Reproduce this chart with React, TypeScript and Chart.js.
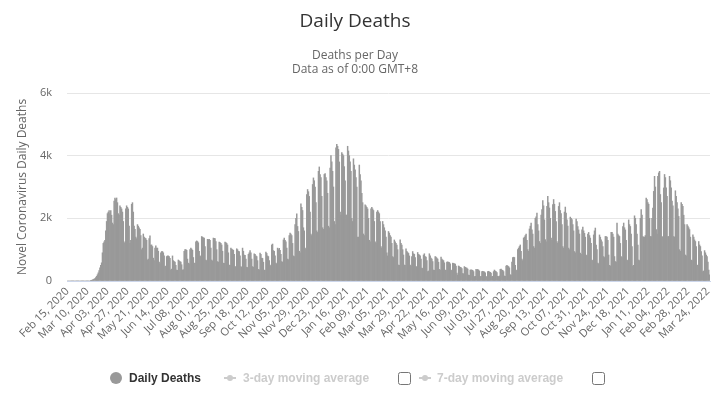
import React, { useEffect, useRef } from 'react';
import { Chart, registerables } from 'chart.js';

Chart.register(...registerables);

const FONT = '"Open Sans", "Liberation Sans", Arial, sans-serif';
const LEGEND_FONT = '"Liberation Sans", Arial, sans-serif';

const chartTitle = 'Daily Deaths';
const chartSubtitle = ['Deaths per Day', 'Data as of 0:00 GMT+8'];
const yAxisTitle = 'Novel Coronavirus Daily Deaths';
const seriesName = 'Daily Deaths';
const hiddenSeries = ['3-day moving average', '7-day moving average'];

const xTickLabels = [
  'Feb 15, 2020', 'Mar 10, 2020', 'Apr 03, 2020', 'Apr 27, 2020', 'May 21, 2020', 'Jun 14, 2020',
  'Jul 08, 2020', 'Aug 01, 2020', 'Aug 25, 2020', 'Sep 18, 2020', 'Oct 12, 2020', 'Nov 05, 2020',
  'Nov 29, 2020', 'Dec 23, 2020', 'Jan 16, 2021', 'Feb 09, 2021', 'Mar 05, 2021', 'Mar 29, 2021',
  'Apr 22, 2021', 'May 16, 2021', 'Jun 09, 2021', 'Jul 03, 2021', 'Jul 27, 2021', 'Aug 20, 2021',
  'Sep 13, 2021', 'Oct 07, 2021', 'Oct 31, 2021', 'Nov 24, 2021', 'Dec 18, 2021', 'Jan 11, 2022',
  'Feb 04, 2022', 'Feb 28, 2022', 'Mar 24, 2022',
];
const tickEvery = 24;
const yTicks = [0, 2000, 4000, 6000];

// Daily deaths, Feb 15 2020 onward
const deathsSpring2020 = [
  0, 0, 0, 0, 0, 0, 0, 0, 0, 0, 0, 0, 0, 0, 0, 0, 0, 0, 0, 0, 0, 0, 0, 0, 0, 0, 0, 0,
  5, 10, 35, 45, 60, 80, 110,
  150, 200, 260, 330, 420, 500, 580,
  900, 1200, 1250, 1300, 1600, 1900, 2150,
  2200, 2250, 2150, 2250, 2100, 1850, 1800,
  2550, 2650, 2600, 2650, 2500, 2150, 2100,
  2400, 2350, 2300, 2200, 1900, 1200, 1250,
  2300, 2400, 2350, 2300, 1750, 1200, 1300,
  2450, 2500, 2200, 1750, 1650, 1400, 1350,
  1800, 1750, 1700, 1650, 1450, 1000, 1050,
  1500, 1400, 1370, 1350, 1300, 670, 700,
  1350, 1440, 1150, 1150, 1100, 730, 650,
  1050, 1120, 1050, 1050, 950, 600, 550,
  900, 940, 940, 900, 800, 460, 480,
  780, 800, 800, 780, 720, 350, 380,
];
const deathsSummer2020 = [
  800, 650, 620, 600, 500, 350, 340,
  670, 640, 620, 600, 520, 350, 360,
  950, 1000, 1000, 980, 700, 570, 550,
  1000, 1050, 1020, 980, 750, 570, 560,
  1250, 1280, 1260, 1220, 950, 800, 780,
  1420, 1400, 1380, 1370, 1100, 670, 650,
  1330, 1320, 1330, 1300, 1050, 670, 640,
  1370, 1360, 1350, 1260, 1000, 620, 600,
  1240, 1230, 1200, 1150, 950, 570, 560,
  1240, 1230, 1200, 1150, 900, 510, 500,
  1050, 1020, 1000, 980, 850, 460, 450,
  1030, 1000, 950, 940, 800, 460, 440,
  1050, 950, 830, 820, 700, 440, 430,
  850, 900, 970, 900, 700, 460, 440,
  870, 850, 800, 780, 650, 370, 360,
  890, 850, 730, 720, 600, 350, 340,
  920, 880, 800, 780, 650, 510, 480,
];
const deathsWinter2020 = [
  1150, 1180, 970, 950, 800, 570, 550,
  1050, 1000, 1040, 980, 850, 620, 600,
  1310, 1370, 1300, 1250, 1050, 700, 680,
  1450, 1530, 1500, 1450, 1200, 800, 780,
  1800, 2000, 2140, 1740, 1580, 950, 900,
  2460, 2350, 2250, 1700, 1600, 1050, 1000,
  2760, 2920, 2850, 2700, 2200, 1500, 1450,
  3080, 3290, 3200, 3000, 2500, 1600, 1550,
  3500, 3640, 3400, 3300, 2700, 1700, 1650,
  3400, 3430, 3300, 3200, 2800, 1750, 1700,
  3600, 4000, 3800, 3500, 3000, 1900, 1800,
  4250, 4360, 4300, 4200, 3800, 2200, 2100,
  4100, 4050, 4000, 3650, 3200, 2100, 2100,
  4300, 4150, 4000, 3800, 3500, 2000, 1900,
  3900, 3700, 3550, 3300, 3000, 1400, 1400,
  3700, 3400, 3200, 2800, 2500, 1500, 1450,
  2430, 2400, 2350, 2300, 2000, 1300, 1250,
  2300, 2350, 2300, 2250, 1900, 1250, 1200,
  2200, 2250, 2200, 2150, 1900, 1100, 1050,
  1900, 1800, 1700, 1600, 1400, 900, 800,
];
const deathsSpring2021 = [
  1580, 1530, 1450, 1400, 1200, 780, 750,
  1310, 1250, 1200, 1150, 1000, 510, 500,
  1310, 1200, 1150, 1000, 830, 510, 500,
  1030, 950, 910, 880, 800, 510, 480,
  780, 940, 870, 850, 750, 460, 450,
  910, 850, 830, 800, 700, 410, 400,
  830, 870, 780, 760, 650, 300, 320,
  870, 800, 730, 700, 620, 350, 340,
  780, 760, 730, 700, 600, 370, 350,
  760, 700, 670, 650, 580, 350, 340,
  600, 610, 600, 590, 550, 350, 330,
  570, 560, 550, 540, 480, 250, 190,
  480, 460, 440, 430, 400, 240, 230,
  460, 440, 420, 410, 380, 190, 180,
  350, 360, 350, 340, 300, 140, 150,
  370, 360, 370, 350, 320, 140, 150,
  300, 310, 300, 290, 260, 140, 130,
  300, 310, 290, 280, 250, 140, 150,
  300, 350, 320, 300, 270, 150, 140,
];
const deathsDelta2021 = [
  160,
  370, 380, 350, 340, 300, 160, 150,
  480, 500, 480, 460, 420, 200, 190,
  600, 750, 760, 750, 500, 350, 330,
  1000, 1050, 1100, 1150, 950, 700, 650,
  1370, 1400, 1450, 1500, 1300, 1000, 950,
  1660, 1750, 1850, 1630, 1500, 1100, 1050,
  2000, 2050, 2170, 1800, 1600, 1260, 1200,
  2100, 2280, 2570, 2400, 1950, 1320, 1250,
  2380, 2700, 2500, 2330, 2000, 1370, 1300,
  2440, 2600, 2450, 2220, 1900, 1260, 1200,
  2380, 2500, 2250, 2150, 1800, 1100, 1050,
  2200, 2360, 2170, 1950, 1750, 1050, 1000,
  2040, 2000, 1960, 1800, 1600, 940, 900,
  1980, 1900, 1740, 1630, 1500, 890, 850,
  1630, 1720, 1600, 1520, 1400, 830, 800,
  1500, 1550, 1450, 1370, 1200, 670, 650,
  1470, 1600, 1690, 1150, 1000, 570, 550,
  1470, 1400, 1310, 1250, 1100, 780, 750,
];
const deathsOmicron2022 = [
  1420, 1420, 1400, 1300, 830, 500, 480,
  1550, 1550, 1500, 1400, 780, 620, 600,
  1850, 1500, 1450, 1420, 1200, 780, 750,
  1740, 1850, 1700, 1630, 1300, 670, 650,
  1950, 1800, 1740, 1500, 1100, 480, 500,
  2080, 2000, 1800, 1500, 1150, 670, 650,
  2000, 2280, 2100, 1420, 1400, 1400, 1450,
  2650, 2600, 2500, 2450, 2000, 1420, 1420,
  2000, 2330, 2860, 3340, 3000, 1640, 1500,
  3340, 3450, 3500, 2760, 2500, 1420, 1400,
  2970, 3400, 3300, 2970, 2700, 1420, 1420,
  3340, 3200, 2970, 2550, 2400, 1420, 1400,
  2880, 2700, 2500, 2300, 2060, 1000, 950,
  2500, 2450, 2380, 2100, 1800, 830, 800,
  1800, 1750, 1700, 1640, 1400, 670, 650,
  1470, 1400, 1310, 1260, 1100, 510, 500,
  1260, 1150, 1100, 940, 800, 300, 320,
  970, 900, 830, 780, 600, 350, 200,
];

const dailyDeaths = [
  ...deathsSpring2020,
  ...deathsSummer2020,
  ...deathsWinter2020,
  ...deathsSpring2021,
  ...deathsDelta2021,
  ...deathsOmicron2022,
];

const MONTHS = ['Jan', 'Feb', 'Mar', 'Apr', 'May', 'Jun', 'Jul', 'Aug', 'Sep', 'Oct', 'Nov', 'Dec'];
function dateLabels(count: number): string[] {
  const out: string[] = [];
  for (let i = 0; i < count; i++) {
    const d = new Date(Date.UTC(2020, 1, 15 + i));
    out.push(`${MONTHS[d.getUTCMonth()]} ${String(d.getUTCDate()).padStart(2, '0')}, ${d.getUTCFullYear()}`);
  }
  return out;
}
const categories = dateLabels(dailyDeaths.length);

const BAR = '#999999';
const HIDDEN = '#cccccc';

export default function App() {
  const ref = useRef<HTMLCanvasElement | null>(null);

  useEffect(() => {
    if (!ref.current) return;
    const chart = new Chart(ref.current, {
      type: 'bar',
      data: {
        labels: categories,
        datasets: [
          {
            label: seriesName,
            data: dailyDeaths,
            backgroundColor: BAR,
            borderWidth: 0,
            barPercentage: 1,
            categoryPercentage: 1,
          },
        ],
      },
      options: {
        animation: false,
        responsive: false,
        devicePixelRatio: 1,
        layout: { padding: { left: 0, right: 18, top: 0, bottom: 56 } },
        plugins: {
          legend: { display: false },
          tooltip: { enabled: false },
          title: {
            display: true,
            text: chartTitle,
            color: '#333333',
            font: { family: FONT, size: 19, weight: 'normal', lineHeight: '22px' },
            padding: { top: 11, bottom: 0 },
          },
          subtitle: {
            display: true,
            text: chartSubtitle,
            color: '#666666',
            font: { family: FONT, size: 12, weight: 'normal', lineHeight: '14px' },
            padding: { top: 16, bottom: 16 },
          },
        },
        scales: {
          x: {
            offset: true,
            grid: { display: false, drawTicks: false },
            border: { display: true, color: '#ccd6eb', width: 1 },
            ticks: {
              autoSkip: false,
              minRotation: 45,
              maxRotation: 45,
              padding: 4,
              color: '#666666',
              font: { family: FONT, size: 11 },
              callback: (_v: any, i: number) => (i % tickEvery === 0 ? xTickLabels[i / tickEvery] ?? '' : ''),
            },
            afterFit: (s: any) => {
              s.height = 60;
            },
          },
          y: {
            min: 0,
            max: 6000,
            afterBuildTicks: (s: any) => {
              s.ticks = yTicks.map((v) => ({ value: v }));
            },
            grid: { color: '#e6e6e6', drawTicks: false },
            border: { display: false },
            ticks: {
              padding: 15,
              color: '#666666',
              font: { family: FONT, size: 11 },
              callback: (v: any) => (Number(v) === 0 ? '0' : `${Number(v) / 1000}k`),
            },
            title: {
              display: true,
              text: yAxisTitle,
              color: '#666666',
              font: { family: FONT, size: 12 },
              padding: { top: 15, bottom: 0 },
            },
            afterFit: (s: any) => {
              s.width = 67;
            },
          },
        },
      },
    });
    return () => chart.destroy();
  }, []);

  const legendText: React.CSSProperties = {
    position: 'absolute',
    top: 370,
    height: 16,
    lineHeight: '16px',
    fontFamily: LEGEND_FONT,
    fontSize: 12,
    fontWeight: 'bold',
    whiteSpace: 'nowrap',
  };
  const checkbox: React.CSSProperties = {
    position: 'absolute',
    top: 372,
    width: 13,
    height: 13,
    margin: 0,
  };

  const lineSymbol = (left: number) => (
    <div style={{ position: 'absolute', left, top: 377, width: 12, height: 2, background: HIDDEN }}>
      <div style={{ position: 'absolute', left: 3, top: -2, width: 6, height: 6, borderRadius: 3, background: HIDDEN }} />
    </div>
  );

  return (
    <div style={{ position: 'fixed', left: 0, top: 0, width: 728, height: 397, background: '#ffffff', overflow: 'hidden' }}>
      <canvas ref={ref} width={728} height={397} style={{ position: 'absolute', left: 0, top: 0, width: 728, height: 397 }} />
      <div style={{ position: 'absolute', left: 110, top: 372, width: 12, height: 12, borderRadius: 6, background: BAR }} />
      <div style={{ ...legendText, left: 129, color: '#333333' }}>{seriesName}</div>
      {lineSymbol(224)}
      <div style={{ ...legendText, left: 243, color: HIDDEN }}>{hiddenSeries[0]}</div>
      <input type="checkbox" readOnly style={{ ...checkbox, left: 398 }} />
      {lineSymbol(419)}
      <div style={{ ...legendText, left: 437, color: HIDDEN }}>{hiddenSeries[1]}</div>
      <input type="checkbox" readOnly style={{ ...checkbox, left: 592 }} />
    </div>
  );
}
